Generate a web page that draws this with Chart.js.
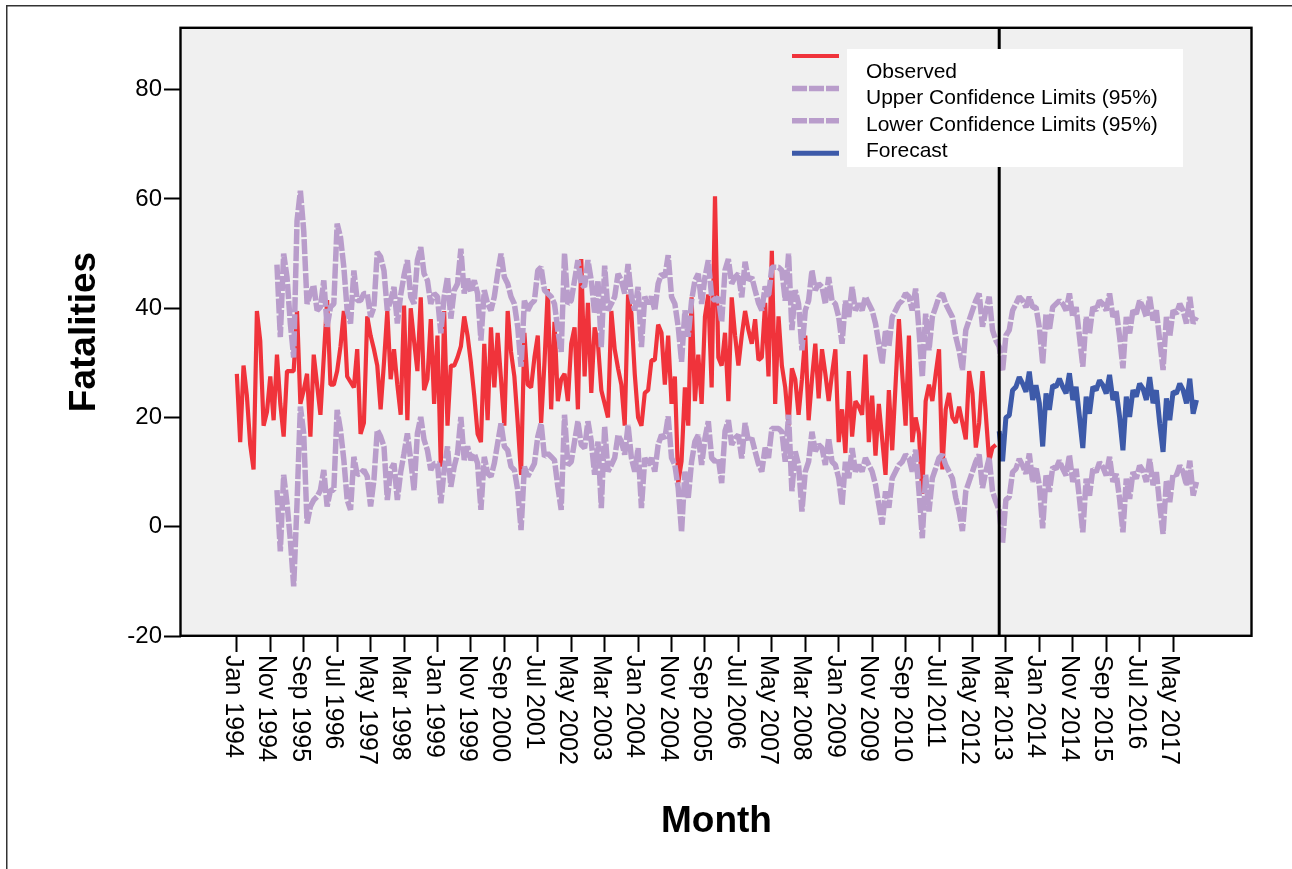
<!DOCTYPE html>
<html>
<head>
<meta charset="utf-8">
<title>Fatalities - observed and forecast</title>
<script src="https://cdn.jsdelivr.net/npm/chart.js@4.4.1/dist/chart.umd.min.js"></script>
<style>
  html, body { margin: 0; padding: 0; background: #fff; }
  #wrap { position: relative; width: 1292px; height: 869px; }
</style>
</head>
<body>
<div id="wrap"><canvas id="chart"></canvas></div>
<script>
const FONT = 'Arial, "Liberation Sans", sans-serif';
const RED = '#f0333b';
const PURPLE = '#b99dcb';
const BLUE = '#3d5aa9';

const seriesNames = ['Observed', 'Upper Confidence Limits (95%)', 'Lower Confidence Limits (95%)', 'Forecast'];

// x ticks: one every 10 months starting Jan 1994 (month index 0)
const tickStep = 10;
const tickLabels = ['Jan 1994', 'Nov 1994', 'Sep 1995', 'Jul 1996', 'May 1997', 'Mar 1998', 'Jan 1999',
  'Nov 1999', 'Sep 2000', 'Jul 2001', 'May 2002', 'Mar 2003', 'Jan 2004', 'Nov 2004', 'Sep 2005',
  'Jul 2006', 'May 2007', 'Mar 2008', 'Jan 2009', 'Nov 2009', 'Sep 2010', 'Jul 2011', 'May 2012',
  'Mar 2013', 'Jan 2014', 'Nov 2014', 'Sep 2015', 'Jul 2016', 'May 2017'];
const yTicks = [-20, 0, 20, 40, 60, 80];

// observed monthly fatalities, Jan 1994 .. Dec 2012
const observed = [
  28, 15.5, 29.5, 24, 15, 10.5, 39.5, 34, 18.5, 21,
  27.5, 19.5, 31.5, 22.5, 16.5, 28.5, 28.5, 28.5, 39.5, 22.5,
  25, 28, 16.5, 31.5, 26, 20.5, 31, 41.5, 26, 26,
  28.5, 33, 39.5, 27.5, 26.5, 25.5, 32.5, 17, 19, 38.5,
  35, 32.5, 29.5, 21.5, 30, 39.5, 27, 32.5, 26, 20.5,
  40.5, 19.5, 40, 34, 28.5, 42, 25, 27, 38, 22.5,
  35, 11, 39.5, 18.5, 29.5, 29.5, 31, 33, 38.5, 35,
  30, 24, 17, 15.5, 33.5, 19.5, 36.5, 25.5, 35.5, 27,
  18.5, 39.5, 32, 27.5, 19, 9.5, 35.5, 26, 25.5, 31,
  35, 19, 30, 43.5, 21.5, 37.5, 23, 27, 28, 23,
  33.5, 36.5, 21.5, 49, 27.5, 41, 24.5, 36.5, 33.5, 25,
  22.5, 20, 39.5, 32.5, 29, 26, 18.5, 42.5, 39, 28,
  20, 18.5, 24.5, 25, 30.5, 30.5, 37, 35.5, 26, 35,
  22.5, 27.5, 8, 12, 25.5, 18.5, 42, 23, 31.5, 22.5,
  38.5, 42.5, 25.5, 60.5, 31, 29.5, 35.5, 23, 42, 35,
  29.5, 35, 39.5, 36, 33.5, 38, 30.5, 31, 41, 27.5,
  50.5, 22.5, 38.5, 29.5, 25.5, 18.5, 29, 27, 20.5, 27,
  35, 19.5, 27, 33.5, 23.5, 32.5, 28, 23, 28, 32.5,
  15.5, 21.5, 13.5, 28.5, 16.5, 23, 22, 20.5, 31.5, 15.5,
  24, 13, 22.5, 16, 9.5, 25, 14, 26, 38, 28,
  18.5, 35, 15.5, 20, 17, 6, 23, 26, 23, 28,
  32.5, 10.5, 21.5, 24.5, 20, 19, 22, 19, 16, 28.5,
  24.5, 14.5, 19, 28.5, 20.5, 12, 14.5, 15
];

// confidence limits start at month 12 (Jan 1995) and run to Dec 2017
const ciStart = 12;
const ciUpper = [
  48, 34.7, 50, 45.7, 37.2, 31, 56, 61.5, 54.2, 40.8,
  42.7, 44.2, 39.6, 40.2, 45.1, 36.6, 40.2, 40.8, 55.5, 53,
  47.5, 39.6, 37.2, 46.9, 41.4, 41.4, 42.7, 42.7, 38.4, 40.2,
  50.3, 49.4, 46.9, 39.6, 41.4, 43.9, 37.2, 42.4, 46, 48.8,
  42.1, 40.8, 48.8, 51.2, 46.3, 45.1, 40.8, 42.7, 42.1, 35.4,
  42.1, 45.7, 38.1, 43.3, 44.5, 50.9, 42.7, 45.4, 43, 45.1,
  42.7, 34.1, 43.3, 40.8, 39.6, 42.1, 46.3, 50, 45.7, 44.5,
  42.1, 40.8, 36.6, 29.3, 41.4, 39.6, 40.8, 41.4, 46.9, 47.5,
  43.3, 42.7, 42.1, 40.8, 36, 32, 50, 40.8, 41.4, 45.1,
  48.8, 44.5, 43.9, 48.8, 45.1, 39, 45.1, 32.9, 47.8, 39.6,
  40.8, 42.1, 46.3, 45.1, 42.7, 48.1, 42.1, 39.6, 43.9, 32.9,
  42.1, 40.8, 42.1, 39.6, 44.5, 46.3, 45.7, 49.7, 42.1, 40.8,
  36.6, 30.2, 39.6, 34.8, 41.4, 45.1, 46.3, 40.8, 45.7, 48.8,
  42.1, 41.4, 42, 37.5, 47, 49, 44.5, 45.7, 46.3, 42,
  48.5, 45.1, 45.7, 43.3, 41, 39.6, 44, 42.1, 47.5, 47.5,
  47.5, 46.9, 41.4, 50, 36, 43.3, 40.8, 32.3, 39.6, 41.4,
  46.9, 43.3, 44.5, 43.9, 40.8, 45.7, 41.4, 40.8, 38.4, 33.5,
  41.4, 38.4, 43.9, 39.6, 40.8, 39.6, 42.1, 40.8, 39.6, 37.2,
  33.5, 29.9, 36, 33, 38.4, 39.6, 40.8, 41.4, 42.7, 42.1,
  39.6, 43.6, 36, 27.4, 39, 32.3, 38.4, 40.2, 42.1, 42.7,
  40.8, 39.6, 38.4, 34.8, 32.3, 28.7, 36, 37.8, 39.6, 41.4,
  42.7, 36.6, 39.6, 42.1, 36, 34.1, 33, 28.5, 35, 36,
  39.6, 40.8, 42.1, 41.4, 40.2, 42.1, 40.2, 40.2, 36.5, 29.9,
  39, 36, 40.2, 40.8, 41.4, 40.8, 39.6, 42.7, 38.4, 40.2,
  34.8, 29.3, 38.4, 35.4, 40.2, 39.6, 41.4, 40.8, 39.6, 42.7,
  38.4, 39.6, 34.8, 29, 38.4, 35.4, 39.6, 39, 41.4, 40.2,
  38.4, 42.1, 37.8, 39.6, 34.1, 28.7, 38.4, 34.8, 39.6, 39,
  40.8, 39.6, 37.2, 42.1, 37.2, 38.4
];
const ciLower = [
  6.7, -4.5, 9.5, 4.3, -2.4, -10.9, 4.3, 22, 17.1, 0.6,
  3.7, 4.9, 5.5, 6.7, 10.4, 3.7, 6.7, 6.7, 21.4, 17.7,
  12.2, 4.9, 3.1, 12.8, 9.5, 9.8, 10.4, 9.2, 3.7, 8.6,
  17.7, 16.5, 14.7, 4.9, 10.4, 11.6, 4.9, 10, 13.4, 17.1,
  12.2, 6.7, 17.1, 20.1, 15.9, 14, 10.4, 11.6, 11.6, 4.3,
  10.4, 14.7, 7.3, 11, 13.4, 20.1, 12.2, 14.7, 12.2, 13.4,
  11.6, 3.1, 12.8, 9.8, 9.2, 11.6, 15.3, 18.9, 14.7, 14,
  11, 10.4, 6.7, -0.6, 11, 9.2, 10.4, 11.6, 16.5, 18.9,
  12.8, 13.4, 12.8, 12.2, 7.3, 3.1, 20.5, 11.3, 11.9, 15.6,
  19.3, 15, 14.4, 19.3, 15.6, 9.5, 15.6, 3.4, 18.3, 10.1,
  11.3, 12.6, 16.8, 15.6, 13.2, 18.6, 12.6, 10.1, 14.4, 3.4,
  12.6, 11.3, 12.6, 10.1, 15, 16.8, 16.2, 20.2, 12.6, 11.3,
  7.1, -1, 10.1, 5.3, 11.9, 15.6, 16.8, 11.3, 16.2, 19.3,
  12.6, 11.9, 12.5, 8, 17.5, 19.5, 15, 16.2, 16.8, 12.5,
  19, 15.6, 16.2, 13.8, 11.5, 10.1, 14.5, 12.6, 18, 18,
  18, 17.4, 11.9, 20.5, 6.5, 13.8, 11.3, 2.8, 10.1, 11.9,
  17.4, 13.8, 15, 14.4, 11.3, 16.2, 11.9, 11.3, 8.9, 4,
  11.9, 8.9, 14.4, 10.1, 11.3, 10.1, 12.6, 11.3, 10.1, 7.7,
  4, 0.4, 6.5, 3.5, 8.9, 10.1, 11.3, 11.9, 13.2, 12.6,
  10.1, 14.1, 6.5, -2.1, 9.5, 2.8, 8.9, 10.7, 12.6, 13.2,
  11.3, 10.1, 8.9, 5.3, 2.8, -0.8, 6.5, 8.3, 10.1, 11.9,
  13.2, 7.1, 10.1, 12.6, 6.5, 4.6, 3, -3, 5, 5.4,
  10, 10.6, 12.4, 11.2, 9.7, 13.4, 8.2, 10.9, 7.6, -0.3,
  9.4, 6.4, 10.9, 10.6, 12.1, 10.6, 9.4, 13.1, 8.2, 10.6,
  5.1, -1, 8.8, 5.7, 10.6, 10, 11.8, 10.9, 9.4, 12.8,
  8.2, 9.7, 5.1, -1, 8.8, 5.1, 10, 8.8, 11.2, 10.3,
  8.2, 12.4, 7.6, 10, 3.9, -1.3, 8.5, 4.5, 9.7, 9.4,
  11.2, 10, 7.6, 12.1, 5.7, 8.2
];

// forecast Jan 2013 .. Dec 2017
const forecastStart = 228;
const forecast = [
  17.5, 12, 20, 20.4, 25, 25.6, 27.4, 26.2, 24.7, 28.4,
  23.2, 25.9, 22.6, 14.7, 24.4, 21.4, 25.9, 25.6, 27.1, 25.6,
  24.4, 28.1, 23.2, 25.6, 20.1, 14.4, 23.8, 20.7, 25.6, 25,
  26.8, 25.9, 24.4, 27.8, 23.2, 24.7, 20.1, 14, 23.8, 20.1,
  25, 23.8, 26.2, 25.3, 23.2, 27.4, 22.6, 25, 18.9, 13.7,
  23.5, 19.5, 24.7, 24.4, 26.2, 25, 22.6, 27.1, 20.7, 23.2
];
const refMonth = 228;

function toPoints(values, start) {
  return values.map((v, i) => ({ x: start + i, y: v }));
}

const framePlugin = {
  id: 'frame',
  beforeDraw(chart) {
    const { ctx, chartArea: a } = chart;
    ctx.save();
    ctx.fillStyle = '#f0f0f0';
    ctx.fillRect(a.left, a.top, a.right - a.left, a.bottom - a.top);
    // page frame
    ctx.strokeStyle = '#333';
    ctx.lineWidth = 1.5;
    ctx.beginPath();
    ctx.moveTo(6.75, chart.height);
    ctx.lineTo(6.75, 5.75);
    ctx.lineTo(chart.width, 5.75);
    ctx.stroke();
    ctx.restore();
  },
  afterDatasetsDraw(chart) {
    const { ctx, chartArea: a } = chart;
    const x = chart.scales.x.getPixelForValue(refMonth);
    ctx.save();
    ctx.strokeStyle = '#000';
    ctx.lineWidth = 3;
    ctx.beginPath();
    ctx.moveTo(x, a.top);
    ctx.lineTo(x, a.bottom);
    ctx.stroke();
    ctx.lineWidth = 2.4;
    ctx.strokeRect(a.left - 0.5, a.top - 0.2, a.right - a.left, a.bottom - a.top);
    ctx.restore();
  },
  afterDraw(chart) {
    const { ctx } = chart;
    const xs = chart.scales.x;
    ctx.save();
    // x tick labels, rotated clockwise
    ctx.font = '25px ' + FONT;
    ctx.fillStyle = '#000';
    ctx.textAlign = 'left';
    ctx.textBaseline = 'middle';
    xs.ticks.forEach((t, i) => {
      ctx.save();
      ctx.translate(xs.getPixelForValue(t.value) - 4, xs.top + 19);
      ctx.rotate(Math.PI / 2);
      ctx.fillText(tickLabels[i], 0, 0);
      ctx.restore();
    });

    // legend
    ctx.fillStyle = '#fff';
    ctx.fillRect(847, 49, 336, 118);
    chart.data.datasets.forEach((ds, i) => {
      const ly = 56 + i * 32.4;
      ctx.strokeStyle = ds.borderColor;
      ctx.lineWidth = ds.borderWidth;
      ctx.setLineDash(ds.borderDash || []);
      ctx.beginPath();
      ctx.moveTo(792, ly);
      ctx.lineTo(839, ly);
      ctx.stroke();
      ctx.setLineDash([]);
      ctx.fillStyle = '#000';
      ctx.font = '21px ' + FONT;
      ctx.fillText(ds.label, 866, 72 + i * 26.4);
    });
    ctx.restore();
  }
};

const common = { pointRadius: 0, tension: 0, fill: false, borderJoinStyle: 'bevel' };

new Chart(document.getElementById('chart'), {
  type: 'line',
  data: {
    datasets: [
      { ...common, label: seriesNames[0], data: toPoints(observed, 0), borderColor: RED, borderWidth: 4.2, order: 2 },
      { ...common, label: seriesNames[1], data: toPoints(ciUpper, ciStart), borderColor: PURPLE, borderWidth: 5.5, borderDash: [15, 2], order: 1 },
      { ...common, label: seriesNames[2], data: toPoints(ciLower, ciStart), borderColor: PURPLE, borderWidth: 5.5, borderDash: [15, 2], order: 1 },
      { ...common, label: seriesNames[3], data: toPoints(forecast, forecastStart), borderColor: BLUE, borderWidth: 5, order: 0 }
    ]
  },
  options: {
    responsive: true,
    maintainAspectRatio: false,
    devicePixelRatio: 1,
    animation: false,
    layout: { padding: { left: 0, top: 28, right: 40, bottom: 0 } },
    plugins: { legend: { display: false }, tooltip: { enabled: false } },
    scales: {
      x: {
        type: 'linear',
        min: -16.7,
        max: 303.6,
        afterBuildTicks: s => { s.ticks = tickLabels.map((_, i) => ({ value: i * tickStep })); },
        afterFit: s => { s.height = 233; },
        border: { display: false },
        grid: { drawOnChartArea: false, drawTicks: true, tickLength: 16, tickColor: '#000', tickWidth: 2 },
        ticks: {
          color: 'rgba(0,0,0,0)', autoSkip: false, maxRotation: 0, minRotation: 0,
          font: { family: FONT, size: 25 },
          callback: (v, i) => tickLabels[i]
        },
        title: {
          display: true, text: 'Month', color: '#000',
          font: { family: FONT, size: 37, weight: 'bold' },
          padding: { top: 0, bottom: 25 }
        }
      },
      y: {
        min: -20,
        max: 91.3,
        afterBuildTicks: s => { s.ticks = yTicks.map(v => ({ value: v })); },
        afterFit: s => { s.width = 181; },
        border: { display: false },
        grid: { drawOnChartArea: false, drawTicks: true, tickLength: 17, tickColor: '#000', tickWidth: 2 },
        ticks: { color: '#000', padding: 2, font: { family: FONT, size: 24 } },
        title: {
          display: true, text: 'Fatalities', color: '#000',
          font: { family: FONT, size: 37, weight: 'bold' },
          padding: { top: 63, bottom: 0 }
        }
      }
    }
  },
  plugins: [framePlugin]
});
</script>
</body>
</html>
